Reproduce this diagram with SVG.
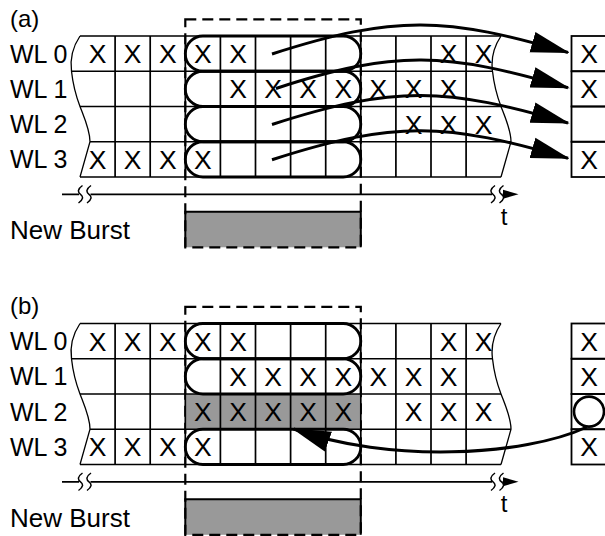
<svg xmlns="http://www.w3.org/2000/svg" xmlns:xlink="http://www.w3.org/1999/xlink" width="605" height="536" viewBox="0 0 605 536">
<style>
text{font-family:"Liberation Sans",Arial,Helvetica,sans-serif;fill:#000}
.lbl{font-size:25px}
.nb{font-size:26px}
.x{font-size:26.5px;text-anchor:middle}
.grid{fill:none;stroke:#000;stroke-width:1.7}
.wave{fill:none;stroke:#000;stroke-width:1.3}
.pill{fill:none;stroke:#000;stroke-width:2.8}
.dash{fill:none;stroke:#000;stroke-width:2.2;stroke-dasharray:11 6}
.arrow{fill:none;stroke:#000;stroke-width:3}
.brk{fill:none;stroke:#000;stroke-width:1.5}
.cell{fill:none;stroke:#000;stroke-width:1.8}
</style>
<defs>
<marker id="ah" markerUnits="userSpaceOnUse" markerWidth="42" markerHeight="24" viewBox="0 -12 42 24" refX="37" refY="0" orient="auto">
<path d="M0,-10.5 L39,0 L0,10.5 z" fill="#000"/>
</marker>
<path id="wave" d="M0,0 C-8,12 -10,24 -8.5,35.25 C-7,49 -4,60 0,70.5 C4,81 10,94 10,105.75 L0,141"/>
<g id="gridlines">
<path class="grid" d="M80,0 H501 M71.5,35.25 H492.5 M80,70.5 H501 M90,105.75 H511 M80,141 H501 M115.1,0 V141 M150.2,0 V141 M185.3,0 V141 M220.4,0 V141 M255.5,0 V141 M290.6,0 V141 M325.7,0 V141 M360.8,0 V141 M395.9,0 V141 M431,0 V141 M466.1,0 V141"/>
<use xlink:href="#wave" class="wave" transform="translate(80,0)"/>
<use xlink:href="#wave" class="wave" transform="translate(501,0)"/>
</g>
<g id="timeline">
<path class="grid" d="M62,158.3 H79 M90.5,158.3 H492 M502.5,158.3 H505"/>
<path class="brk" d="M82.5,149.5 C77.5,153 77.5,156 80.5,158.3 C83.5,160.6 83.5,163.6 78.5,167 M91,149.5 C86,153 86,156 89,158.3 C92,160.6 92,163.6 87,167 M495,149.5 C490,153 490,156 493,158.3 C496,160.6 496,163.6 491,167 M503.5,149.5 C498.5,153 498.5,156 501.5,158.3 C504.5,160.6 504.5,163.6 499.5,167"/>
<path d="M503,153.8 L518.5,158.3 L503,162.8 z" fill="#000"/>
<text x="504" y="188.5" font-size="24" text-anchor="middle">t</text>
</g>
<g id="burst">
<rect x="185.3" y="175.7" width="175.5" height="35.6" fill="#999"/>
<path d="M185.3,211.3 V175.7 H360.8 V211.3" fill="none" stroke="#000" stroke-width="2"/>
<rect class="dash" x="185.3" y="-16.7" width="175.5" height="228"/>
<text class="nb" x="10" y="203">New Burst</text>
</g>
<g id="wllabels">
<text class="lbl" x="10" y="26.6">WL 0</text>
<text class="lbl" x="10" y="61.9">WL 1</text>
<text class="lbl" x="10" y="97.1">WL 2</text>
<text class="lbl" x="10" y="132.4">WL 3</text>
</g>
</defs>

<!-- Panel (a) -->
<g id="panel-a" transform="translate(0,36)">
<text x="10" y="-9.5" font-size="24">(a)</text>
<use xlink:href="#wllabels"/>
<use xlink:href="#burst"/>
<use xlink:href="#timeline"/>
<g id="grid-a"><use xlink:href="#gridlines"/></g>
<g id="pills-a">
<rect class="pill" x="185.3" y="0" width="175.5" height="35.25" rx="17.6"/>
<rect class="pill" x="185.3" y="35.25" width="175.5" height="35.25" rx="17.6"/>
<rect class="pill" x="185.3" y="70.5" width="175.5" height="35.25" rx="17.6"/>
<rect class="pill" x="185.3" y="105.75" width="175.5" height="35.25" rx="17.6"/>
</g>
<g id="cells-a">
<text class="x" x="97.6" y="27">X</text><text class="x" x="132.7" y="27">X</text><text class="x" x="167.8" y="27">X</text><text class="x" x="202.9" y="27">X</text><text class="x" x="238" y="27">X</text><text class="x" x="448.6" y="27">X</text><text class="x" x="483.7" y="27">X</text>
<text class="x" x="238" y="62.3">X</text><text class="x" x="273.1" y="62.3">X</text><text class="x" x="308.2" y="62.3">X</text><text class="x" x="343.3" y="62.3">X</text><text class="x" x="378.4" y="62.3">X</text><text class="x" x="413.5" y="62.3">X</text><text class="x" x="448.6" y="62.3">X</text>
<text class="x" x="413.5" y="97.5">X</text><text class="x" x="448.6" y="97.5">X</text><text class="x" x="483.7" y="97.5">X</text>
<text class="x" x="97.6" y="132.8">X</text><text class="x" x="132.7" y="132.8">X</text><text class="x" x="167.8" y="132.8">X</text><text class="x" x="202.9" y="132.8">X</text>
</g>
<g id="target-a">
<rect class="cell" x="571.5" y="0" width="36" height="35.25"/>
<rect class="cell" x="571.5" y="35.25" width="36" height="35.25"/>
<rect class="cell" x="571.5" y="70.5" width="36" height="35.25"/>
<rect class="cell" x="571.5" y="105.75" width="36" height="35.25"/>
<text class="x" x="589" y="27">X</text>
<text class="x" x="589" y="62.3">X</text>
<text class="x" x="589" y="132.8">X</text>
</g>
<g id="connectors-a">
<path class="arrow" marker-end="url(#ah)" d="M272,18 C396,-22 446,-19 568,16.5"/>
<path class="arrow" marker-end="url(#ah)" d="M276,52.5 C396,13.25 446,16.25 568,51.75"/>
<path class="arrow" marker-end="url(#ah)" d="M272,88.5 C396,48.5 446,51.5 568,87"/>
<path class="arrow" marker-end="url(#ah)" d="M272,123.75 C396,83.75 446,86.75 568,122.25"/>
</g>
</g>

<!-- Panel (b) -->
<g id="panel-b" transform="translate(0,323.5)">
<text x="10" y="-9.5" font-size="24">(b)</text>
<use xlink:href="#wllabels"/>
<use xlink:href="#burst"/>
<use xlink:href="#timeline"/>
<rect x="185.3" y="70.5" width="175.5" height="35.25" fill="#999"/>
<g id="grid-b"><use xlink:href="#gridlines"/></g>
<g id="pills-b">
<rect class="pill" x="185.3" y="0" width="175.5" height="35.25" rx="17.6"/>
<rect class="pill" x="185.3" y="35.25" width="175.5" height="35.25" rx="17.6"/>
<rect class="pill" x="185.3" y="105.75" width="175.5" height="35.25" rx="17.6"/>
</g>
<g id="cells-b">
<text class="x" x="97.6" y="27">X</text><text class="x" x="132.7" y="27">X</text><text class="x" x="167.8" y="27">X</text><text class="x" x="202.9" y="27">X</text><text class="x" x="238" y="27">X</text><text class="x" x="448.6" y="27">X</text><text class="x" x="483.7" y="27">X</text>
<text class="x" x="238" y="62.3">X</text><text class="x" x="273.1" y="62.3">X</text><text class="x" x="308.2" y="62.3">X</text><text class="x" x="343.3" y="62.3">X</text><text class="x" x="378.4" y="62.3">X</text><text class="x" x="413.5" y="62.3">X</text><text class="x" x="448.6" y="62.3">X</text>
<text class="x" x="202.9" y="97.5">X</text><text class="x" x="238" y="97.5">X</text><text class="x" x="273.1" y="97.5">X</text><text class="x" x="308.2" y="97.5">X</text><text class="x" x="343.3" y="97.5">X</text><text class="x" x="413.5" y="97.5">X</text><text class="x" x="448.6" y="97.5">X</text><text class="x" x="483.7" y="97.5">X</text>
<text class="x" x="97.6" y="132.8">X</text><text class="x" x="132.7" y="132.8">X</text><text class="x" x="167.8" y="132.8">X</text><text class="x" x="202.9" y="132.8">X</text>
</g>
<g id="target-b">
<rect class="cell" x="571.5" y="0" width="36" height="35.25"/>
<rect class="cell" x="571.5" y="35.25" width="36" height="35.25"/>
<rect class="cell" x="571.5" y="70.5" width="36" height="35.25"/>
<rect class="cell" x="571.5" y="105.75" width="36" height="35.25"/>
<text class="x" x="589" y="27">X</text>
<text class="x" x="589" y="62.3">X</text>
<circle cx="589" cy="88.1" r="15" fill="#fff" stroke="#000" stroke-width="2.6"/>
<text class="x" x="589" y="132.8">X</text>
</g>
<g id="connectors-b">
<path class="arrow" marker-end="url(#ah)" d="M587,103.5 C523.6,132.9 387.6,139.7 293.6,105.5"/>
</g>
</g>
</svg>
